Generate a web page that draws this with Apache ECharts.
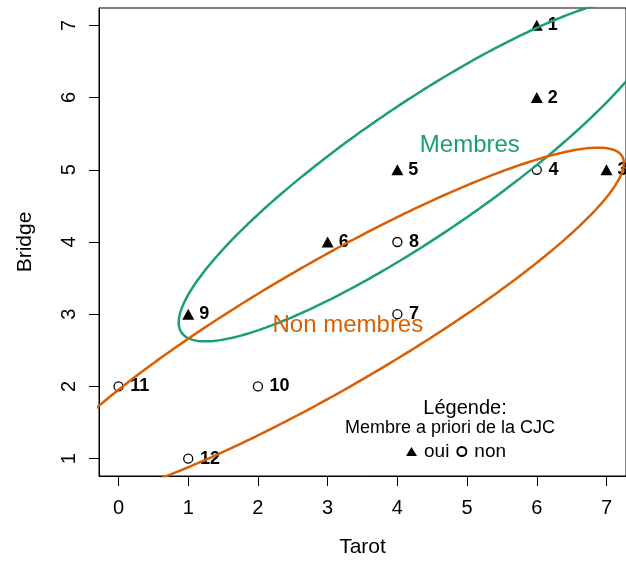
<!DOCTYPE html>
<html><head><meta charset="utf-8">
<script src="https://cdn.jsdelivr.net/npm/echarts@6/dist/echarts.min.js"></script>
<style>html,body{margin:0;padding:0;background:#fff}#c{width:626px;height:563px}</style>
</head><body><div id="c"></div>
<script>
// ---- data ----
const ids     = ['1','2','3','4','5','6','7','8','9','10','11','12'];
const tarot   = [6, 6, 7, 6, 4, 3, 4, 4, 1, 2, 0, 1];
const bridge  = [7, 6, 5, 5, 5, 4, 3, 4, 3, 2, 2, 1];
const aPriori = ['oui','oui','oui','non','oui','oui','non','non','oui','non','non','non'];
const cluster = [0, 0, 1, 0, 0, 0, 1, 1, 0, 1, 1, 1];
const clusterNames  = ['Membres', 'Non membres'];
const clusterColors = ['#1B9E77', '#D95F02'];
const clusterLabelX = [5.04, 3.29];
const clusterLabelY = [5.34, 2.85];
const ellipseRadius = 1.68;
const xTicks = [0, 1, 2, 3, 4, 5, 6, 7];
const yTicks = [1, 2, 3, 4, 5, 6, 7];
const legendTitle = ['Légende:', 'Membre a priori de la CJC'];
const legendItems = ['oui', 'non'];
const xName = 'Tarot', yName = 'Bridge';

// ---- helpers ----
function ext(arr) {
  const mn = Math.min(...arr), mx = Math.max(...arr), r = mx - mn;
  return [mn - 0.04 * r, mx + 0.04 * r];
}
function ellipse(xs, ys, r, n) {
  const m = xs.length;
  const mx = xs.reduce((a, b) => a + b, 0) / m;
  const my = ys.reduce((a, b) => a + b, 0) / m;
  let sxx = 0, syy = 0, sxy = 0;
  for (let i = 0; i < m; i++) {
    sxx += (xs[i] - mx) ** 2; syy += (ys[i] - my) ** 2; sxy += (xs[i] - mx) * (ys[i] - my);
  }
  sxx /= (m - 1); syy /= (m - 1); sxy /= (m - 1);
  const a = Math.sqrt(sxx), b = sxy / a, c = Math.sqrt(syy - b * b);
  const pts = [];
  for (let k = 0; k <= n; k++) {
    const t = 2 * Math.PI * k / n;
    pts.push([mx + r * a * Math.cos(t), my + r * (b * Math.cos(t) + c * Math.sin(t))]);
  }
  return pts;
}

const xr = ext(tarot), yr = ext(bridge);
const pts = g => ids.map((id, i) => [tarot[i], bridge[i], id, aPriori[i]]).filter(d => d[3] === g);

const ellipseSeries = clusterNames.map((name, k) => {
  const xs = [], ys = [];
  cluster.forEach((c, i) => { if (c === k) { xs.push(tarot[i]); ys.push(bridge[i]); } });
  return {
    type: 'line', name: name, data: ellipse(xs, ys, ellipseRadius, 360),
    showSymbol: false, symbol: 'none', clip: true, silent: true, z: 3,
    lineStyle: { color: clusterColors[k], width: 2.5 }
  };
});

const labelFont = 'Liberation Sans, Arial, sans-serif';
const ptLabel = (dist) => ({
  show: true, position: 'right', distance: dist, color: '#000',
  fontFamily: labelFont, fontWeight: 'bold', fontSize: 18,
  formatter: p => p.data[2]
});

const chart = echarts.init(document.getElementById('c'), null, { renderer: 'canvas' });
chart.setOption({
  animation: false,
  backgroundColor: '#fff',
  textStyle: { fontFamily: labelFont },
  grid: { left: 99, top: 8, bottom: 85, right: -1, show: true, borderColor: '#000', borderWidth: 1, backgroundColor: 'transparent' },
  xAxis: {
    type: 'value', min: xr[0], max: xr[1],
    name: xName, nameLocation: 'middle', nameGap: 61,
    nameTextStyle: { color: '#000', fontSize: 21, fontFamily: labelFont },
    axisLine: { show: true, onZero: false, lineStyle: { color: '#000', width: 1 } },
    axisTick: { show: true, length: 10, customValues: xTicks, lineStyle: { color: '#000' } },
    axisLabel: { customValues: xTicks, color: '#000', fontSize: 20, margin: 22, fontFamily: labelFont },
    splitLine: { show: false }
  },
  yAxis: {
    type: 'value', min: yr[0], max: yr[1],
    name: yName, nameLocation: 'middle', nameGap: 63,
    nameTextStyle: { color: '#000', fontSize: 21, fontFamily: labelFont },
    axisLine: { show: true, onZero: false, lineStyle: { color: '#000', width: 1 } },
    axisTick: { show: true, length: 10, customValues: yTicks, lineStyle: { color: '#000' } },
    axisLabel: { customValues: yTicks, color: '#000', fontSize: 20, margin: 20, rotate: 90, fontFamily: labelFont },
    splitLine: { show: false }
  },
  legend: {
    data: legendItems, left: 406, top: 442, orient: 'horizontal',
    itemWidth: 11, itemHeight: 9, itemGap: 7, padding: 0,
    textStyle: { color: '#000', fontSize: 19, fontFamily: labelFont, padding: [0, 0, 0, 2] }
  },
  graphic: [
    { type: 'text', x: 465, y: 408, style: { text: legendTitle[0], fill: '#000', font: '20px ' + labelFont, textAlign: 'center', textVerticalAlign: 'middle' } },
    { type: 'text', x: 450, y: 428, style: { text: legendTitle[1], fill: '#000', font: '18px ' + labelFont, textAlign: 'center', textVerticalAlign: 'middle' } }
  ],
  series: [
    {
      type: 'scatter', name: legendItems[0], data: pts('oui'), symbol: 'triangle', symbolSize: [12, 11], z: 2,
      itemStyle: { color: '#000', opacity: 1 }, label: ptLabel(5)
    },
    {
      type: 'scatter', name: legendItems[1], data: pts('non'), symbol: 'circle', symbolSize: 9, z: 2,
      itemStyle: { color: '#fff', borderColor: '#000', borderWidth: 1.3, opacity: 1 }, label: ptLabel(6.5)
    },
    ...ellipseSeries,
    {
      type: 'scatter', name: 'groupLabels', silent: true, symbolSize: 0, z: 4,
      itemStyle: { opacity: 1 },
      data: clusterNames.map((n, k) => ({
        value: [clusterLabelX[k], clusterLabelY[k]],
        label: { show: true, position: 'inside', formatter: n, color: clusterColors[k], fontSize: 24, fontFamily: labelFont }
      }))
    }
  ]
});
</script></body></html>
